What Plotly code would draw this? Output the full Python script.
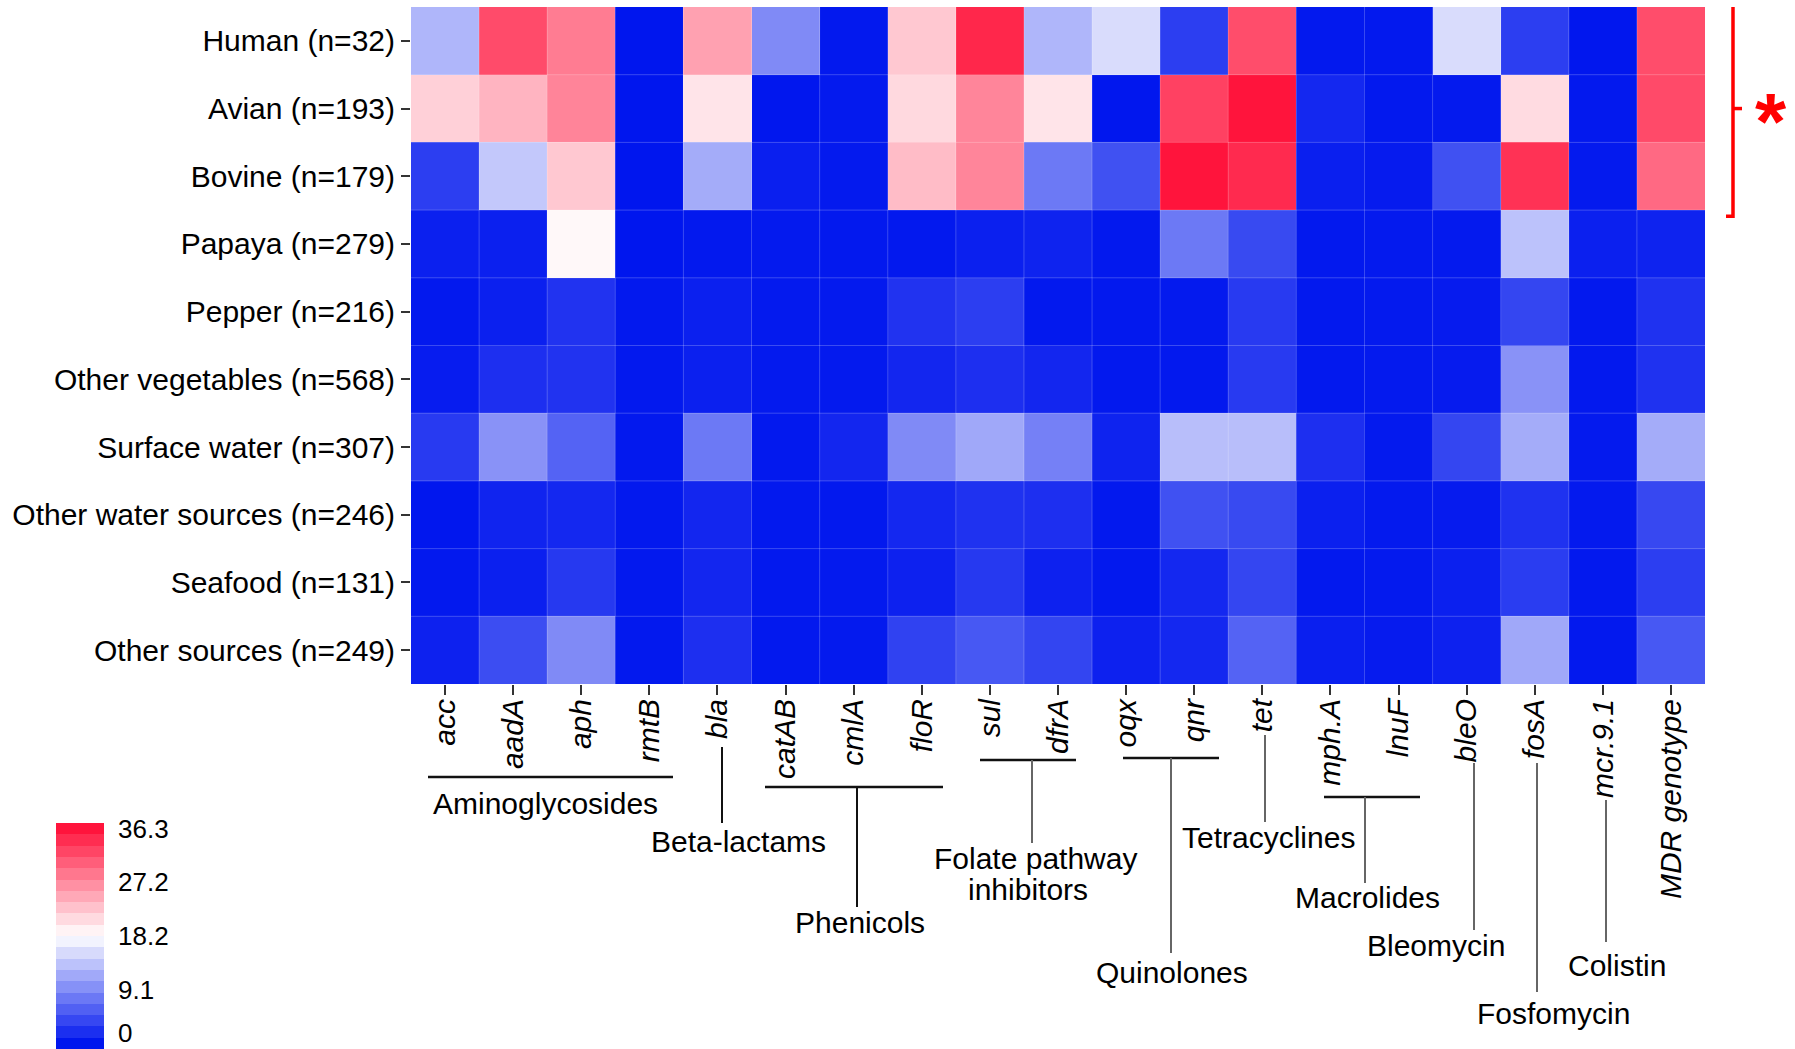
import plotly.graph_objects as go

# ---------------- data ----------------
sources = ["Human (n=32)", "Avian (n=193)", "Bovine (n=179)", "Papaya (n=279)",
           "Pepper (n=216)", "Other vegetables (n=568)", "Surface water (n=307)",
           "Other water sources (n=246)", "Seafood (n=131)", "Other sources (n=249)"]
genes = ["acc", "aadA", "aph", "rmtB", "bla", "catAB", "cmlA", "floR", "sul", "dfrA",
         "oqx", "qnr", "tet", "mph.A", "lnuF", "bleO", "fosA", "mcr.9.1", "MDR genotype"]

human       = [12.5, 32.0, 28.3, 0.0, 25.4, 9.1, 0.2, 22.4, 34.9, 12.5, 15.4, 3.1, 31.9, 0.2, 0.2, 15.4, 3.1, 0.1, 31.9]
avian       = [21.8, 23.9, 27.7, 0.0, 20.2, 0.1, 0.3, 21.1, 27.6, 20.2, 0.1, 32.8, 36.3, 1.4, 0.2, 0.3, 20.9, 0.2, 32.1]
bovine      = [3.1, 13.9, 22.4, 0.0, 11.7, 0.7, 0.3, 23.3, 27.6, 7.7, 4.6, 36.3, 34.6, 0.7, 0.4, 4.6, 34.0, 0.3, 29.7]
papaya      = [0.8, 0.8, 18.7, 0.0, 0.2, 0.3, 0.2, 0.2, 0.8, 1.0, 0.2, 7.7, 4.0, 0.2, 0.3, 0.3, 13.4, 0.8, 1.0]
pepper      = [0.2, 0.8, 2.3, 0.2, 0.8, 0.3, 0.3, 2.3, 3.1, 0.2, 0.2, 0.3, 2.8, 0.2, 0.3, 0.4, 3.7, 0.2, 2.2]
other_veg   = [0.5, 2.0, 2.3, 0.2, 0.8, 0.3, 0.3, 1.3, 2.0, 1.3, 0.2, 0.2, 2.8, 0.2, 0.3, 0.4, 9.7, 0.2, 2.2]
surface     = [2.8, 9.7, 6.0, 0.2, 7.7, 0.2, 1.3, 9.1, 11.4, 8.3, 1.0, 13.1, 13.1, 2.0, 0.3, 3.7, 11.7, 0.3, 11.7]
other_water = [0.1, 1.1, 1.4, 0.2, 1.3, 0.2, 0.2, 1.4, 2.2, 2.0, 0.2, 4.6, 4.0, 0.8, 0.3, 0.4, 2.2, 0.3, 3.9]
seafood     = [0.2, 0.8, 2.7, 0.2, 1.3, 0.2, 0.3, 0.9, 2.7, 0.9, 0.2, 1.4, 3.7, 0.2, 0.3, 0.8, 3.0, 0.2, 3.1]
other_src   = [0.9, 4.3, 9.1, 0.2, 2.0, 0.2, 0.3, 3.4, 5.1, 3.6, 0.9, 1.4, 6.0, 0.7, 0.4, 0.9, 11.4, 0.2, 5.1]

z_values = [human, avian, bovine, papaya, pepper, other_veg, surface, other_water, seafood, other_src]

z_min, z_max = 0.0, 36.3
cbar_ticks = [0, 9.1, 18.2, 27.2, 36.3]
cbar_ticktext = ["0", "9.1", "18.2", "27.2", "36.3"]

# drug-class labels under the gene axis
classes = ["Aminoglycosides", "Beta-lactams", "Phenicols", "Folate pathway", "inhibitors",
           "Quinolones", "Tetracyclines", "Macrolides", "Bleomycin", "Fosfomycin", "Colistin"]

# ---------------- styling ----------------
W, H = 1795, 1049
L, R, T, B = 411, 1705, 7, 684          # plot-area pixel box
LOW = (0, 22, 238)
MID = (255, 255, 255)
HIGH = (255, 20, 60)
FONT = "Liberation Sans, Arial, sans-serif"


def cmap(t):
    if t <= 0.5:
        a, b, f = LOW, MID, t / 0.5
    else:
        a, b, f = MID, HIGH, (t - 0.5) / 0.5
    return "rgb(%d,%d,%d)" % tuple(round(a[i] + (b[i] - a[i]) * f) for i in range(3))


def px_x(p):
    return (p - L) / (R - L)


def px_y(p):
    return (B - p) / (B - T)


cont_scale = [[i / 20, cmap(i / 20)] for i in range(21)]

# stepped colour bar (20 bands, tick values at band centres)
nb = 20
half = (z_max - z_min) / (nb - 1) / 2
c_lo, c_hi = z_min - half, z_max + half
step_scale = []
for i in range(nb):
    centre = z_min + i * (z_max - z_min) / (nb - 1)
    col = cmap((centre - z_min) / (z_max - z_min))
    step_scale.append([i / nb, col])
    step_scale.append([(i + 1) / nb, col])

fig = go.Figure()
fig.add_trace(go.Heatmap(
    z=z_values, x=genes, y=sources,
    zmin=z_min, zmax=z_max, colorscale=cont_scale, showscale=False,
))

cb_top, cb_bot = 823, 1049
cb_left, cb_thick = 56, 48
fig.add_trace(go.Scatter(
    x=[genes[0]], y=[sources[0]], mode="markers", hoverinfo="skip", showlegend=False,
    marker=dict(size=0.1, opacity=0, color=[z_min], cmin=c_lo, cmax=c_hi,
                colorscale=step_scale, showscale=True,
                colorbar=dict(
                    x=px_x(cb_left), xanchor="left", xpad=0, ypad=0,
                    y=px_y((cb_top + cb_bot) / 2), yanchor="middle",
                    len=cb_bot - cb_top, lenmode="pixels",
                    thickness=cb_thick, thicknessmode="pixels",
                    outlinewidth=0, ticks="", showticklabels=False,
                ))))

shapes = []
annotations = []
# faint cell borders
for i in range(1, len(genes)):
    shapes.append(dict(type="line", xref="x", yref="paper", x0=i - 0.5, x1=i - 0.5, y0=0, y1=1,
                       line=dict(color="rgba(255,255,255,0.22)", width=1), layer="above"))
for j in range(1, len(sources)):
    shapes.append(dict(type="line", xref="paper", yref="y", x0=0, x1=1, y0=j - 0.5, y1=j - 0.5,
                       line=dict(color="rgba(255,255,255,0.22)", width=1), layer="above"))

# colour-bar tick dashes (both sides) and labels
cb_len = cb_bot - cb_top
for v, txt in zip(cbar_ticks, cbar_ticktext):
    yp = cb_bot - (v - c_lo) / (c_hi - c_lo) * cb_len
    for xa, xb in ((cb_left, cb_left + 8), (cb_left + cb_thick - 8, cb_left + cb_thick)):
        shapes.append(dict(type="line", xref="paper", yref="paper",
                           x0=px_x(xa), x1=px_x(xb), y0=px_y(yp), y1=px_y(yp),
                           line=dict(color="white", width=1.5)))
    ylab = min(yp, H - 16)
    annotations.append(dict(text=txt, xref="paper", yref="paper", x=px_x(cb_left + cb_thick + 12),
                            y=px_y(ylab), xanchor="left", yanchor="middle", showarrow=False,
                            font=dict(family=FONT, size=26, color="black")))

# significance bracket
bx = px_x(1733)
shapes.append(dict(type="path", xref="paper", yref="y",
                   path="M %f,-0.56 L %f,-0.56 L %f,2.59 L %f,2.59" % (px_x(1726), bx, bx, px_x(1726)),
                   line=dict(color="red", width=3.5)))
shapes.append(dict(type="line", xref="paper", yref="y", x0=bx, x1=px_x(1742), y0=1.0, y1=1.0,
                   line=dict(color="red", width=3.5)))

# class grouping lines (pixel positions)
BLACK = "#111111"
GREY = "#666666"
hlines = [(428, 673, 777), (765, 943, 787), (980, 1076, 760), (1123, 1219, 758), (1324, 1420, 797)]
for x0, x1, y in hlines:
    shapes.append(dict(type="line", xref="paper", yref="paper", x0=px_x(x0), x1=px_x(x1),
                       y0=px_y(y), y1=px_y(y), line=dict(color=BLACK, width=2.5)))
vlines = [(722, 747, 823, BLACK), (857, 787, 907, BLACK), (1032, 760, 843, GREY),
          (1171, 758, 953, GREY), (1265, 735, 822, GREY), (1365, 797, 883, GREY),
          (1474, 763, 930, GREY), (1537, 763, 992, GREY), (1606, 800, 942, GREY)]
for x, y0, y1, c in vlines:
    shapes.append(dict(type="line", xref="paper", yref="paper", x0=px_x(x), x1=px_x(x),
                       y0=px_y(y0), y1=px_y(y1), line=dict(color=c, width=2)))

label_pos = [(545, 803), (738, 842), (860, 922), (1035, 858), (1028, 889),
             (1172, 972), (1268, 837), (1367, 897), (1436, 945), (1553, 1013), (1617, 965)]
for text, (x, y) in zip(classes, label_pos):
    annotations.append(dict(text=text, xref="paper", yref="paper", x=px_x(x), y=px_y(y),
                            xanchor="center", yanchor="middle", showarrow=False,
                            font=dict(family=FONT, size=30, color="black")))
annotations.append(dict(text="<b>*</b>", xref="paper", yref="y", x=px_x(1771), y=1.0,
                        xanchor="center", yanchor="middle", showarrow=False, yshift=-13,
                        font=dict(family=FONT, size=80, color="red")))

fig.update_layout(
    width=W, height=H,
    margin=dict(l=L, r=W - R, t=T, b=H - B, pad=0, autoexpand=False),
    paper_bgcolor="white", plot_bgcolor="white",
    shapes=shapes, annotations=annotations,
    xaxis=dict(type="category", range=[-0.5, len(genes) - 0.5], tickangle=-90,
               ticks="outside", ticklen=10, tickwidth=2, ticklabelstandoff=-8,
               tickcolor="#333333", showgrid=False, zeroline=False, showline=False,
               tickfont=dict(family=FONT, size=30, color="black", style="italic"),
               fixedrange=True, automargin=False),
    yaxis=dict(type="category", range=[len(sources) - 0.5, -0.5], ticks="outside",
               ticklen=9, tickwidth=2,
               tickcolor="#333333", showgrid=False, zeroline=False, showline=False,
               tickfont=dict(family=FONT, size=30, color="black"), fixedrange=True,
               automargin=False),
)

fig.write_html("out.html", config={"displayModeBar": False},
               post_script="document.body.style.margin='0px';")
